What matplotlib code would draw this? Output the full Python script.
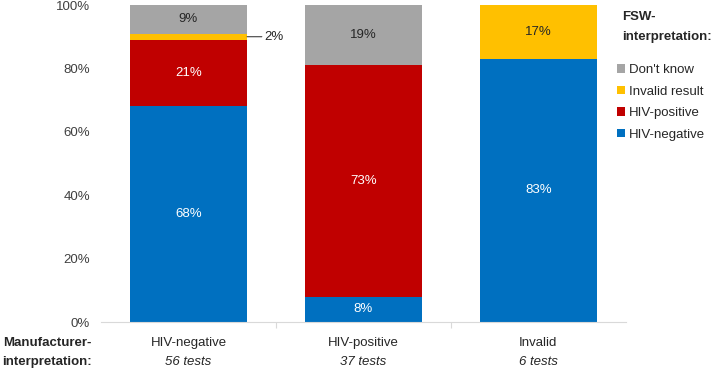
import matplotlib
matplotlib.use("Agg")
import matplotlib.pyplot as plt
import numpy as np

plt.rcParams['font.family'] = ['Liberation Sans', 'DejaVu Sans']

categories = ["HIV-negative", "HIV-positive", "Invalid"]
test_counts = ["56 tests", "37 tests", "6 tests"]
series_names = ["HIV-negative", "HIV-positive", "Invalid result", "Don't know"]
hiv_negative = [68, 8, 83]
hiv_positive = [21, 73, 0]
invalid_result = [2, 0, 17]
dont_know = [9, 19, 0]
yticks = [0, 20, 40, 60, 80, 100]

colors = ["#0070C0", "#C00000", "#FFC000", "#A5A5A5"]
text_colors = ["white", "white", "#262626", "#262626"]

fig = plt.figure(figsize=(7.14, 3.74), dpi=100)
ax = fig.add_axes([0.1415, 0.139, 0.735, 0.8476])

x = np.arange(len(categories))
series = [hiv_negative, hiv_positive, invalid_result, dont_know]
bottom = np.zeros(len(categories))
handles = []
for vals, name, col, tc in zip(series, series_names, colors, text_colors):
    vals = np.array(vals, dtype=float)
    b = ax.bar(x, vals, bottom=bottom, width=0.67, color=col, label=name)
    handles.append(b)
    for xi, v, bt in zip(x, vals, bottom):
        if v >= 5:
            ax.text(xi, bt + v / 2, f"{int(v)}%", ha="center", va="center",
                    color=tc, fontsize=9.5)
        elif v > 0:
            ax.annotate(f"{int(v)}%", xy=(xi + 0.335, bt + v / 2),
                        xytext=(xi + 0.435, bt + v / 2), ha="left", va="center",
                        fontsize=9.5, color="#262626",
                        arrowprops=dict(arrowstyle="-", color="#404040", lw=0.8,
                                        shrinkA=0, shrinkB=0))
    bottom += vals

ax.set_xlim(-0.5, 2.5)
ax.set_ylim(0, 100)
ax.set_yticks(yticks)
ax.set_yticklabels([f"{t}%" for t in yticks], fontsize=9.5, color="#404040")
ax.tick_params(axis="y", length=0, pad=8)
ax.set_xticks([0.5, 1.5])
ax.set_xticklabels([])
ax.tick_params(axis="x", length=4, color="#D9D9D9", direction="out")
for s in ["top", "right", "left"]:
    ax.spines[s].set_visible(False)
ax.spines["bottom"].set_color("#D9D9D9")

for xi, cat, cnt in zip(x, categories, test_counts):
    ax.text(xi, -0.065, cat, transform=ax.get_xaxis_transform(), ha="center",
            va="center", fontsize=9.5, color="#262626")
    ax.text(xi, -0.125, cnt, transform=ax.get_xaxis_transform(), ha="center",
            va="center", fontsize=9.5, color="#262626", style="italic")

fig.text(92 / 714, 1 - 343 / 374, "Manufacturer-", ha="right", va="center",
         fontsize=9.5, fontweight="bold", color="#262626")
fig.text(92 / 714, 1 - 362 / 374, "interpretation:", ha="right", va="center",
         fontsize=9.5, fontweight="bold", color="#262626")

fig.text(622 / 714, 1 - 17 / 374, "FSW-", ha="left", va="center",
         fontsize=9.5, fontweight="bold", color="#262626")
fig.text(622 / 714, 1 - 37 / 374, "interpretation:", ha="left", va="center",
         fontsize=9.5, fontweight="bold", color="#262626")

leg = fig.legend(handles[::-1], series_names[::-1], loc="upper left",
                 bbox_to_anchor=(612 / 714, 1 - 59 / 374), frameon=False,
                 fontsize=9.5, handlelength=0.6, handleheight=0.6,
                 handletextpad=0.3, labelspacing=0.72, borderaxespad=0)
for t in leg.get_texts():
    t.set_color("#262626")

fig.savefig("out.png", dpi=100)
